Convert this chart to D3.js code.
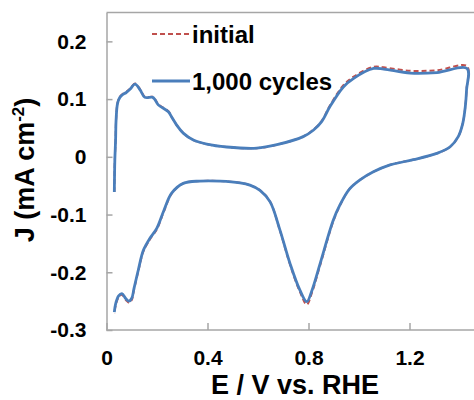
<!DOCTYPE html>
<html>
<head>
<meta charset="utf-8">
<script src="https://cdn.jsdelivr.net/npm/d3@7"></script>
<style>
  body { margin: 0; background: #fff; }
  svg { display: block; font-family: "Liberation Sans", Arial, sans-serif; font-weight: bold; }
</style>
</head>
<body>
<div class="chart"></div>
<script>
// potential (V vs RHE), anodic sweep then cathodic sweep
let potential = [
  0.031, 0.033, 0.036, 0.038, 0.044, 0.053, 0.065, 0.077, 0.093, 0.113,
  0.133, 0.152, 0.183, 0.192, 0.205, 0.245, 0.258, 0.278, 0.304, 0.344,
  0.397, 0.476, 0.595, 0.675, 0.779, 0.819, 0.852, 0.885, 0.938, 0.979,
  1.058, 1.098, 1.203, 1.309, 1.428,
  1.426, 1.421, 1.411, 1.393, 1.360, 1.308, 1.215, 1.123, 1.057, 1.004,
  0.962, 0.925, 0.898, 0.846, 0.814, 0.793, 0.766, 0.727, 0.687, 0.648,
  0.608, 0.568, 0.529, 0.450, 0.370, 0.304, 0.258, 0.228, 0.199, 0.172,
  0.146, 0.126, 0.109, 0.100, 0.089, 0.077, 0.061, 0.048, 0.036, 0.031
]
// current density after 1,000 cycles (mA cm-2)
let cycledJ = [
  -0.061, -0.006, 0.029, 0.064, 0.093, 0.103, 0.108, 0.111, 0.117, 0.126,
  0.116, 0.103, 0.103, 0.099, 0.090, 0.078, 0.069, 0.055, 0.041, 0.029,
  0.022, 0.017, 0.015, 0.021, 0.035, 0.046, 0.061, 0.087, 0.121, 0.136,
  0.153, 0.152, 0.145, 0.146, 0.153,
  0.116, 0.087, 0.058, 0.035, 0.017, 0.006, -0.005, -0.014, -0.026, -0.040,
  -0.056, -0.083, -0.110, -0.185, -0.231, -0.251, -0.231, -0.185, -0.127, -0.078,
  -0.058, -0.049, -0.045, -0.042, -0.042, -0.046, -0.063, -0.092, -0.124, -0.141,
  -0.162, -0.196, -0.228, -0.245, -0.250, -0.246, -0.237, -0.241, -0.255, -0.269
]
// initial current density (mA cm-2)
let initialJ = [
  -0.061, -0.006, 0.029, 0.064, 0.094, 0.104, 0.109, 0.112, 0.118, 0.127,
  0.117, 0.104, 0.104, 0.100, 0.091, 0.079, 0.069, 0.055, 0.041, 0.029,
  0.022, 0.017, 0.015, 0.021, 0.035, 0.047, 0.062, 0.089, 0.124, 0.139,
  0.156, 0.155, 0.149, 0.150, 0.157,
  0.117, 0.087, 0.058, 0.035, 0.017, 0.006, -0.005, -0.014, -0.026, -0.040,
  -0.056, -0.084, -0.112, -0.188, -0.235, -0.256, -0.234, -0.187, -0.128, -0.078,
  -0.058, -0.049, -0.045, -0.042, -0.042, -0.046, -0.064, -0.094, -0.126, -0.143,
  -0.164, -0.198, -0.230, -0.248, -0.253, -0.248, -0.239, -0.243, -0.258, -0.272
]
let xTicks = [0, 0.4, 0.8, 1.2]
let yTicks = [-0.3, -0.2, -0.1, 0, 0.1, 0.2]
let seriesNames = ['initial', '1,000 cycles']

{
  let width = 474, height = 400
  let left = 106.5, top = 12.5, bottom = 330
  let tickGray = '#a6a6a6'
  let blue = '#4a7ebb', red = '#c0504d'

  let svg = d3.select('.chart').append('svg')
    .attr('width', width)
    .attr('height', height)

  let x = d3.scaleLinear().domain([0, 1.5]).range([left, left + 1.5 * 252.5])
  let y = d3.scaleLinear().domain([-0.3, 0.25]).range([bottom, top])

  // frame: top edge
  svg.append('line')
    .attr('x1', left).attr('x2', width)
    .attr('y1', top).attr('y2', top)
    .style('stroke', tickGray)
    .style('stroke-width', 1.5)

  let fmt = d => String(d)

  let yAxis = svg.append('g')
    .attr('transform', `translate(${left},0)`)
    .call(d3.axisLeft(y).tickValues(yTicks).tickFormat(fmt).tickSizeInner(-6).tickSizeOuter(0).tickPadding(20))
  let xAxis = svg.append('g')
    .attr('transform', `translate(0,${bottom})`)
    .call(d3.axisBottom(x).tickValues(xTicks).tickFormat(fmt).tickSizeInner(-7).tickSizeOuter(0).tickPadding(20))

  ;[xAxis, yAxis].forEach(ax => {
    ax.select('.domain').style('stroke', tickGray).style('stroke-width', 1.5)
    ax.selectAll('.tick line').style('stroke', tickGray).style('stroke-width', 1.5)
    ax.selectAll('.tick text')
      .style('font-family', '"Liberation Sans", Arial, sans-serif')
      .style('font-weight', 'bold')
      .style('font-size', '21px')
      .style('fill', '#000')
  })
  // bottom axis runs to the edge of the picture
  xAxis.select('.domain').attr('d', `M${left},0H${width}`)

  let points = js => potential.map((e, i) => ({ e: e, j: js[i] }))
  let line = d3.line().x(d => x(d.e)).y(d => y(d.j)).curve(d3.curveCatmullRom.alpha(0.5))

  svg.append('path')
    .datum(points(initialJ))
    .attr('d', line)
    .style('fill', 'none')
    .style('stroke', red)
    .style('stroke-width', 2)
    .style('stroke-dasharray', '5,3')

  svg.append('path')
    .datum(points(cycledJ))
    .attr('d', line)
    .style('fill', 'none')
    .style('stroke', blue)
    .style('stroke-width', 2.8)
    .style('stroke-linejoin', 'round')

  // legend
  let legend = svg.append('g')
  let legendRows = [
    { name: seriesNames[0], color: red, dash: '5,3', w: 2, y: 34 },
    { name: seriesNames[1], color: blue, dash: null, w: 2.8, y: 81 }
  ]
  legendRows.forEach(row => {
    legend.append('line')
      .attr('x1', 152).attr('x2', 190)
      .attr('y1', row.y).attr('y2', row.y)
      .style('stroke', row.color)
      .style('stroke-width', row.w)
      .style('stroke-dasharray', row.dash)
    legend.append('text')
      .attr('x', 192)
      .attr('y', row.y + 8.5)
      .style('font-size', '24px')
      .text(row.name)
  })

  // axis titles
  svg.append('text')
    .attr('x', 295)
    .attr('y', 394)
    .attr('text-anchor', 'middle')
    .style('font-size', '27px')
    .text('E / V vs. RHE')

  let yTitle = svg.append('text')
    .attr('transform', 'translate(34,170) rotate(-90)')
    .attr('text-anchor', 'middle')
    .style('font-size', '27px')
  yTitle.append('tspan').text('J (mA cm')
  yTitle.append('tspan').attr('dy', -10).style('font-size', '17px').text('-2')
  yTitle.append('tspan').attr('dy', 10).text(')')
}
</script>
</body>
</html>
